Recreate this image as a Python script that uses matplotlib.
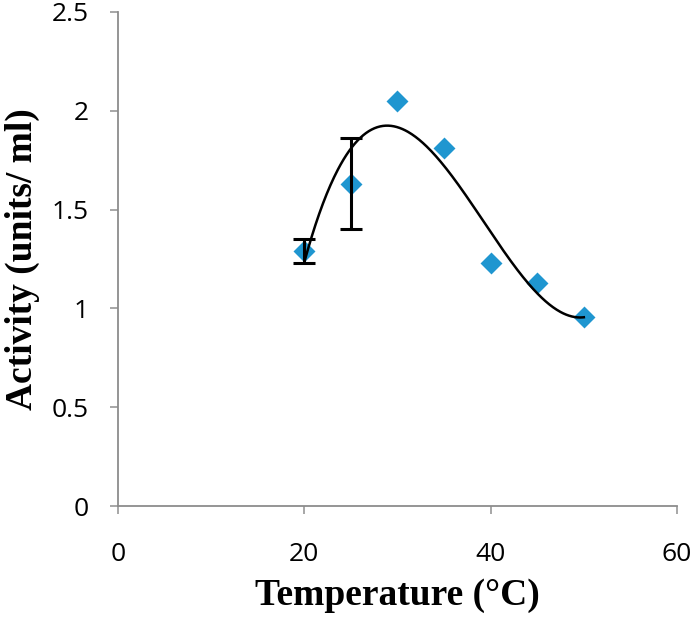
import numpy as np
import matplotlib
matplotlib.use("Agg")
import matplotlib.pyplot as plt

# temperature vs activity
temp = [20, 25, 30, 35, 40, 45, 50]
activity = [1.29, 1.63, 2.05, 1.81, 1.23, 1.13, 0.955]
err_lo = [0.06, 0.23, 0, 0, 0, 0, 0]
err_hi = [0.06, 0.23, 0, 0, 0, 0, 0]

xticks = [0, 20, 40, 60]
yticks = [0, 0.5, 1, 1.5, 2, 2.5]
ytick_labels = ['0', '0.5', '1', '1.5', '2', '2.5']

fig = plt.figure(figsize=(6.93, 6.21), dpi=100)
ax = fig.add_axes([0.170, 0.185, 0.807, 0.796])

ax.scatter(temp, activity, marker='D', s=125, color='#1F96D0', zorder=3, linewidths=0)

# error bars only on first two points
ax.errorbar(temp[:2], activity[:2], yerr=[err_lo[:2], err_hi[:2]], fmt='none',
            ecolor='black', elinewidth=2.2, capsize=8, capthick=2.2, zorder=4)

# polynomial trend line (order 3)
coef = np.polyfit(temp, activity, 3)
xs = np.linspace(temp[0], temp[-1], 300)
ax.plot(xs, np.polyval(coef, xs), color='black', lw=1.8, zorder=5)

ax.set_xlim(0, 60)
ax.set_ylim(0, 2.5)
ax.set_xticks(xticks)
ax.set_yticks(yticks)
ax.set_yticklabels(ytick_labels)

for s in ['top', 'right']:
    ax.spines[s].set_visible(False)
for s in ['left', 'bottom']:
    ax.spines[s].set_color('#8C8C8C')
    ax.spines[s].set_linewidth(1.3)
ax.tick_params(direction='out', length=6, width=1.3, color='#A0A0A0',
               labelsize=19, pad=15)
for lab in ax.get_xticklabels() + ax.get_yticklabels():
    lab.set_fontfamily('Open Sans')
ax.tick_params(axis='x', pad=20)

ax.set_xlabel('Temperature (°C)', fontfamily='Liberation Serif', fontweight='bold',
              fontsize=27, labelpad=8)
ax.set_ylabel('Activity (units/ ml)', fontfamily='Liberation Serif', fontweight='bold',
              fontsize=27, labelpad=8)

fig.savefig('out.png', dpi=100)
